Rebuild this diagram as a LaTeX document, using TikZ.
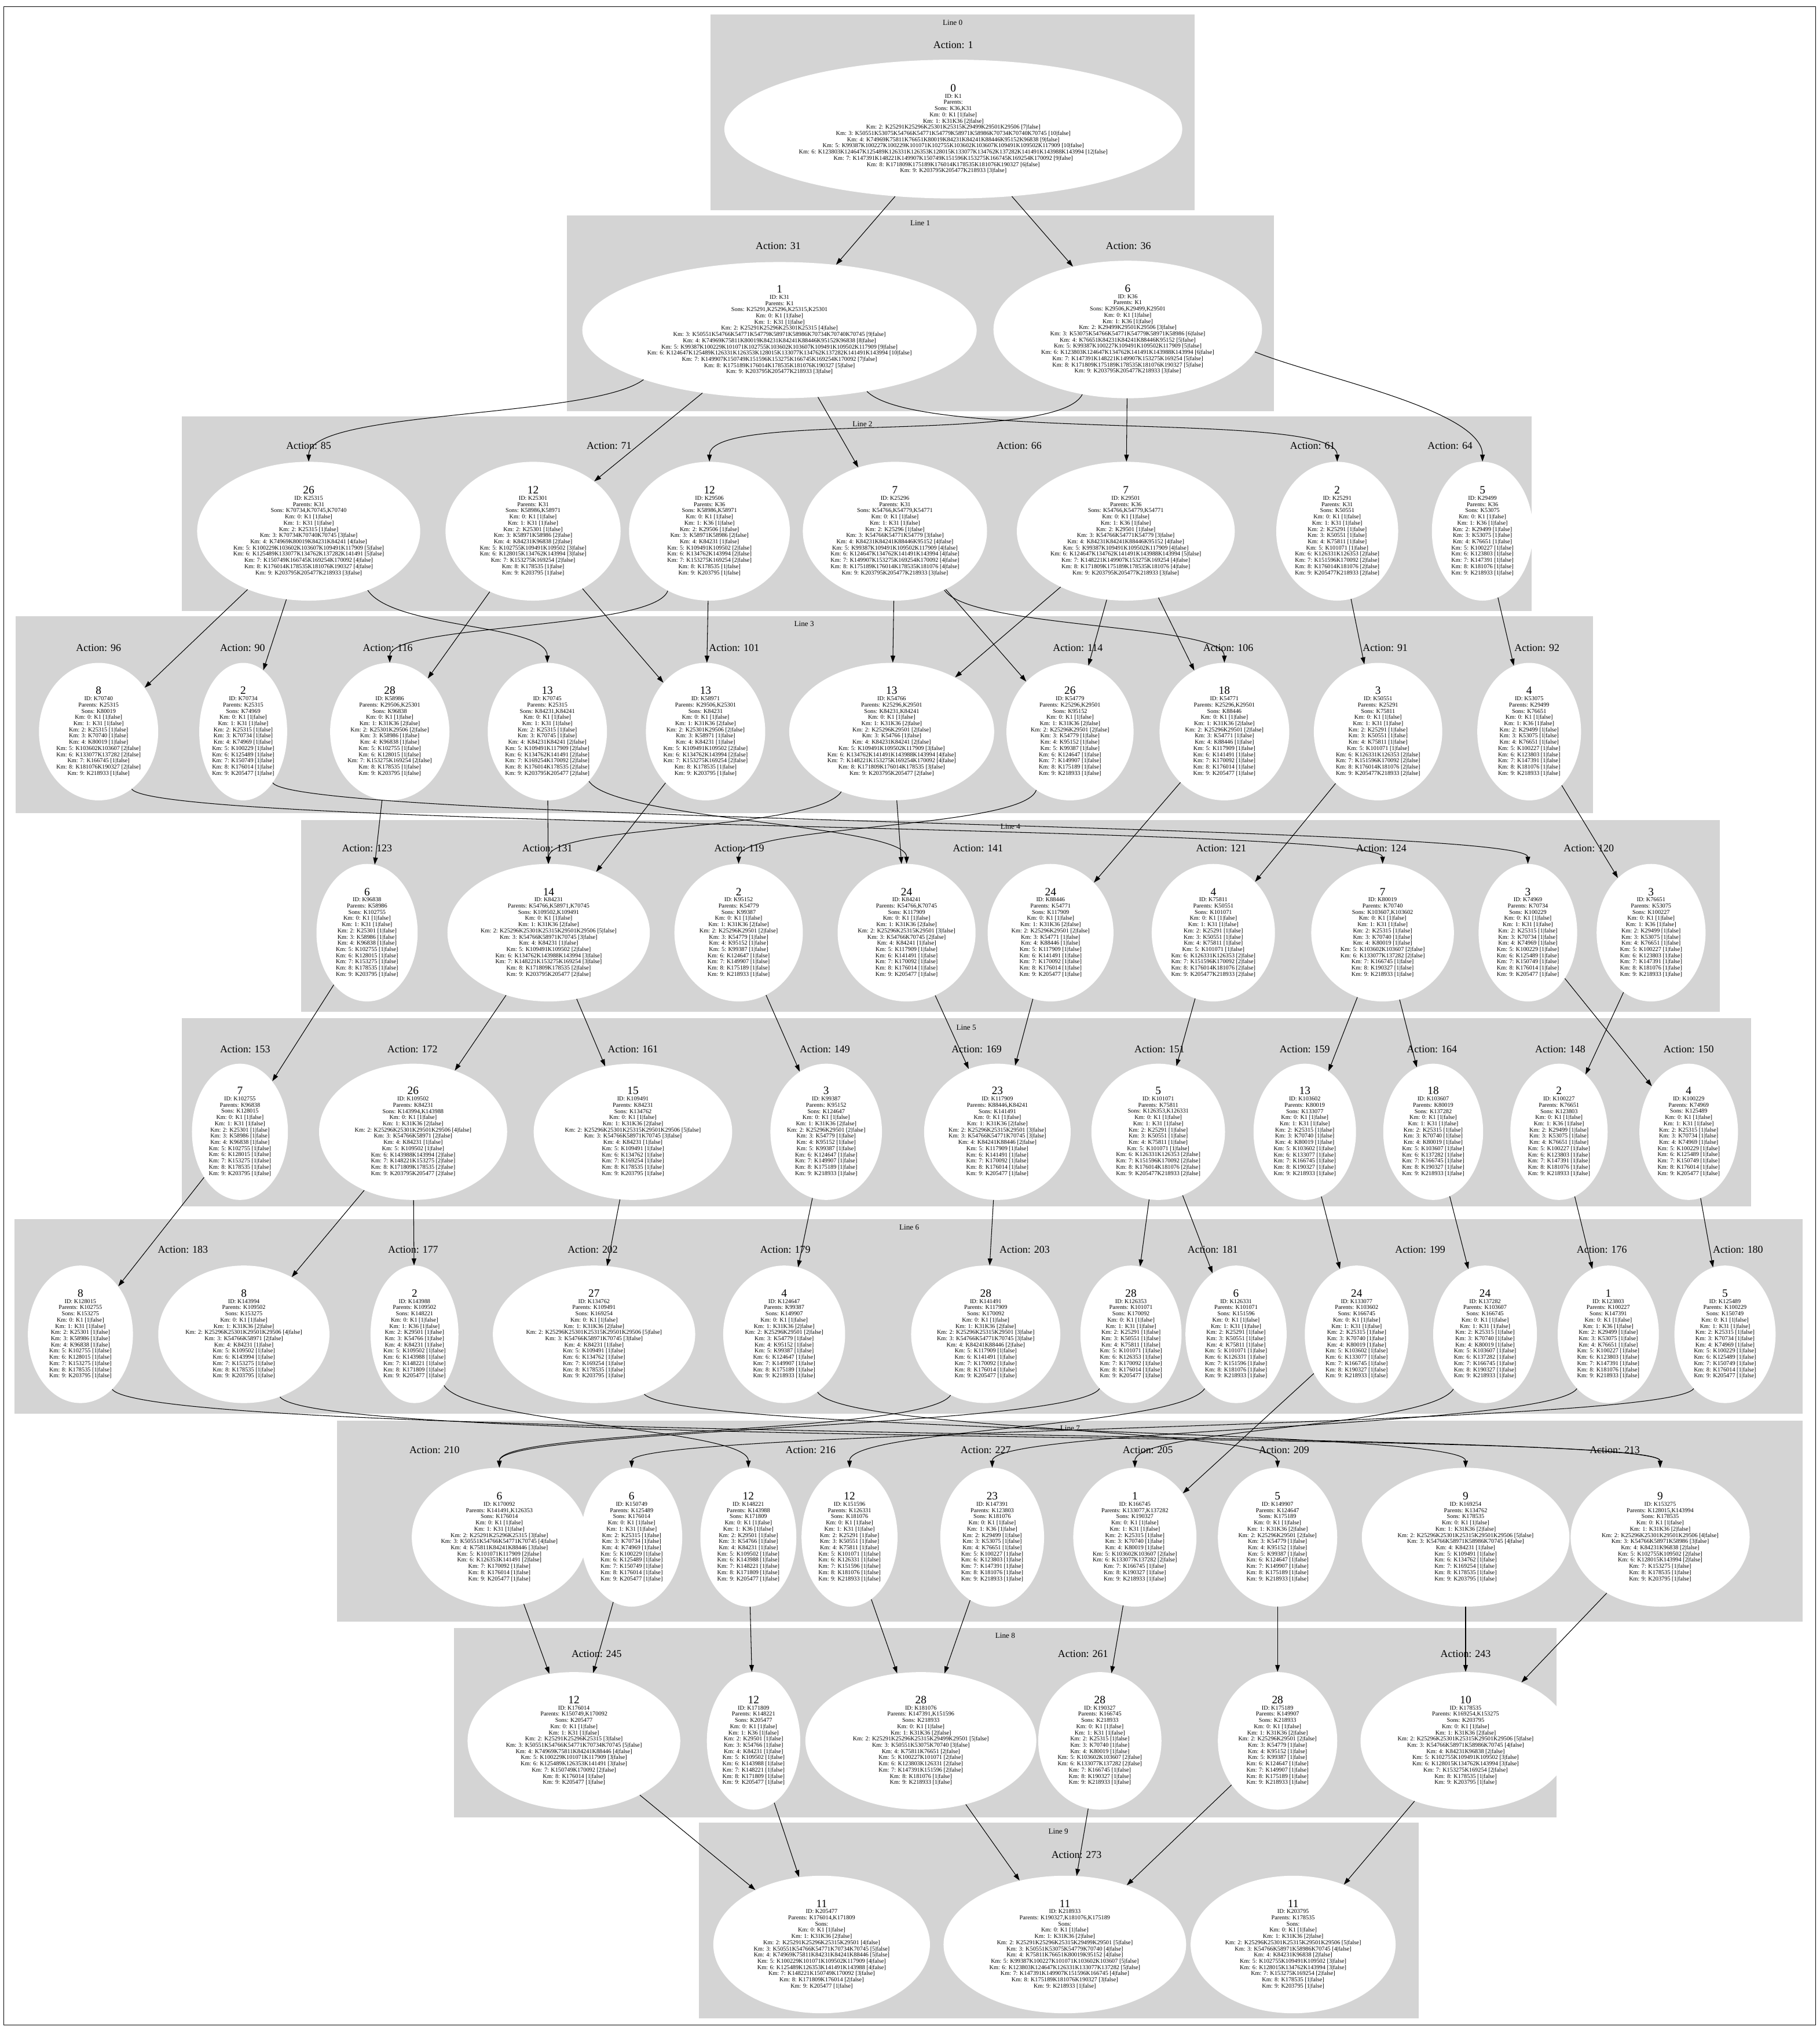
\documentclass[tikz,border=0pt]{standalone}
\usepackage{fontspec}
\setmainfont{Liberation Serif}
\usetikzlibrary{shapes.geometric,arrows.meta}
\tikzset{
  kGroup/.style={fill=black!17,draw=none},
  kLine/.style={font=\fontsize{7.5}{9}\selectfont,inner sep=0pt},
  kAct/.style={font=\fontsize{10.2}{12}\selectfont,inner sep=0pt},
  kState/.style={ellipse,fill=white,draw=none,inner sep=0pt,align=center,
        font=\fontsize{5.85}{6.1}\selectfont},
  kSize/.style 2 args={minimum width=#1*0.4482mm,minimum height=#2*0.4482mm},
  kEdge/.style={line width=.6pt,-{Triangle[length=2.4mm,width=1.6mm]}},
}
\newcommand{\knum}[1]{{\fontsize{11}{12}\selectfont #1}\\}
\newcommand{\kmline}[3]{Km: #1: #2 [#3|false]}

\begin{document}
\begin{tikzpicture}[x=0.4482mm,y=-0.4482mm]
\useasboundingbox (0,0) rectangle (1403,1568);
\draw[line width=.6pt] (3,5) rectangle (1400,1561);
% clusters, one per line
\fill[kGroup] (548,11) rectangle (921,162);
\fill[kGroup] (437,166) rectangle (982,317);
\fill[kGroup] (140,321) rectangle (1181,471);
\fill[kGroup] (12,475) rectangle (1228,627);
\fill[kGroup] (232,632) rectangle (1326,780);
\fill[kGroup] (140,785) rectangle (1350,930);
\fill[kGroup] (11,940) rectangle (1390,1090);
\fill[kGroup] (260,1095) rectangle (1390,1250);
\fill[kGroup] (350,1255) rectangle (1200,1401);
\fill[kGroup] (539,1405) rectangle (1094,1556);
\node[kLine] (line0) at (734.5,17.5) {Line 0};
\node[kLine] (line1) at (709.5,172) {Line 1};
\node[kLine] (line2) at (665,327) {Line 2};
\node[kLine] (line3) at (620,481) {Line 3};
\node[kLine] (line4) at (779,637) {Line 4};
\node[kLine] (line5) at (745,792) {Line 5};
\node[kLine] (line6) at (701,946) {Line 6};
\node[kLine] (line7) at (825,1101) {Line 7};
\node[kLine] (line8) at (775,1261) {Line 8};
\node[kLine] (line9) at (816,1412) {Line 9};

% line 0
\node[kAct] (a1) at (735,34.5) {Action: 1};
\node[kState,kSize={353}{107}] (k1) at (735,99.5) {\knum{0}ID: K1\\Parents:\\Sons: K36,K31\\\kmline0{K1}1\\\kmline1{K31K36}2\\\kmline2{K25291K25296K25301K25315K29499K29501K29506}7\\\kmline3{K50551K53075K54766K54771K54779K58971K58986K70734K70740K70745}{10}\\\kmline4{K74969K75811K76651K80019K84231K84241K88446K95152K96838}9\\\kmline5{K99387K100227K100229K101071K102755K103602K103607K109491K109502K117909}{10}\\\kmline6{K123803K124647K125489K126331K126353K128015K133077K134762K137282K141491K143988K143994}{12}\\\kmline7{K147391K148221K149907K150749K151596K153275K166745K169254K170092}9\\\kmline8{K171809K175189K176014K178535K181076K190327}6\\\kmline9{K203795K205477K218933}3};

% line 1
\node[kAct] (a31) at (600,189.7) {Action: 31};
\node[kAct] (a36) at (870,189.7) {Action: 36};
\node[kState,kSize={304}{105}] (k31) at (601,254.5) {\knum{1}ID: K31\\Parents: K1\\Sons: K25291,K25296,K25315,K25301\\\kmline0{K1}1\\\kmline1{K31}1\\\kmline2{K25291K25296K25301K25315}4\\\kmline3{K50551K54766K54771K54779K58971K58986K70734K70740K70745}9\\\kmline4{K74969K75811K80019K84231K84241K88446K95152K96838}8\\\kmline5{K99387K100229K101071K102755K103602K103607K109491K109502K117909}9\\\kmline6{K124647K125489K126331K126353K128015K133077K134762K137282K141491K143994}{10}\\\kmline7{K149907K150749K151596K153275K166745K169254K170092}7\\\kmline8{K175189K176014K178535K181076K190327}5\\\kmline9{K203795K205477K218933}3};
\node[kState,kSize={207}{106}] (k36) at (869.5,254) {\knum{6}ID: K36\\Parents: K1\\Sons: K29506,K29499,K29501\\\kmline0{K1}1\\\kmline1{K36}1\\\kmline2{K29499K29501K29506}3\\\kmline3{K53075K54766K54771K54779K58971K58986}6\\\kmline4{K76651K84231K84241K88446K95152}5\\\kmline5{K99387K100227K109491K109502K117909}5\\\kmline6{K123803K124647K134762K141491K143988K143994}6\\\kmline7{K147391K148221K149907K153275K169254}5\\\kmline8{K171809K175189K178535K181076K190327}5\\\kmline9{K203795K205477K218933}3};

% line 2
\node[kAct] (a85) at (238,343.7) {Action: 85};
\node[kAct] (a71) at (469.6,343.7) {Action: 71};
\node[kAct] (a66) at (785.8,343.7) {Action: 66};
\node[kAct] (a61) at (1012,343.7) {Action: 61};
\node[kAct] (a64) at (1118,343.7) {Action: 64};
\node[kState,kSize={172}{107}] (k25315) at (238,409.5) {\knum{26}ID: K25315\\Parents: K31\\Sons: K70734,K70745,K70740\\\kmline0{K1}1\\\kmline1{K31}1\\\kmline2{K25315}1\\\kmline3{K70734K70740K70745}3\\\kmline4{K74969K80019K84231K84241}4\\\kmline5{K100229K103602K103607K109491K117909}5\\\kmline6{K125489K133077K134762K137282K141491}5\\\kmline7{K150749K166745K169254K170092}4\\\kmline8{K176014K178535K181076K190327}4\\\kmline9{K203795K205477K218933}3};
\node[kState,kSize={135}{107}] (k25301) at (411,409.5) {\knum{12}ID: K25301\\Parents: K31\\Sons: K58986,K58971\\\kmline0{K1}1\\\kmline1{K31}1\\\kmline2{K25301}1\\\kmline3{K58971K58986}2\\\kmline4{K84231K96838}2\\\kmline5{K102755K109491K109502}3\\\kmline6{K128015K134762K143994}3\\\kmline7{K153275K169254}2\\\kmline8{K178535}1\\\kmline9{K203795}1};
\node[kState,kSize={124}{107}] (k29506) at (547,409.5) {\knum{12}ID: K29506\\Parents: K36\\Sons: K58986,K58971\\\kmline0{K1}1\\\kmline1{K36}1\\\kmline2{K29506}1\\\kmline3{K58971K58986}2\\\kmline4{K84231}1\\\kmline5{K109491K109502}2\\\kmline6{K134762K143994}2\\\kmline7{K153275K169254}2\\\kmline8{K178535}1\\\kmline9{K203795}1};
\node[kState,kSize={142}{107}] (k25296) at (690,409.5) {\knum{7}ID: K25296\\Parents: K31\\Sons: K54766,K54779,K54771\\\kmline0{K1}1\\\kmline1{K31}1\\\kmline2{K25296}1\\\kmline3{K54766K54771K54779}3\\\kmline4{K84231K84241K88446K95152}4\\\kmline5{K99387K109491K109502K117909}4\\\kmline6{K124647K134762K141491K143994}4\\\kmline7{K149907K153275K169254K170092}4\\\kmline8{K175189K176014K178535K181076}4\\\kmline9{K203795K205477K218933}3};
\node[kState,kSize={168}{107}] (k29501) at (868,409.5) {\knum{7}ID: K29501\\Parents: K36\\Sons: K54766,K54779,K54771\\\kmline0{K1}1\\\kmline1{K36}1\\\kmline2{K29501}1\\\kmline3{K54766K54771K54779}3\\\kmline4{K84231K84241K88446K95152}4\\\kmline5{K99387K109491K109502K117909}4\\\kmline6{K124647K134762K141491K143988K143994}5\\\kmline7{K148221K149907K153275K169254}4\\\kmline8{K171809K175189K178535K181076}4\\\kmline9{K203795K205477K218933}3};
\node[kState,kSize={94}{107}] (k25291) at (1031,409.5) {\knum{2}ID: K25291\\Parents: K31\\Sons: K50551\\\kmline0{K1}1\\\kmline1{K31}1\\\kmline2{K25291}1\\\kmline3{K50551}1\\\kmline4{K75811}1\\\kmline5{K101071}1\\\kmline6{K126331K126353}2\\\kmline7{K151596K170092}2\\\kmline8{K176014K181076}2\\\kmline9{K205477K218933}2};
\node[kState,kSize={78}{107}] (k29499) at (1143,409.5) {\knum{5}ID: K29499\\Parents: K36\\Sons: K53075\\\kmline0{K1}1\\\kmline1{K36}1\\\kmline2{K29499}1\\\kmline3{K53075}1\\\kmline4{K76651}1\\\kmline5{K100227}1\\\kmline6{K123803}1\\\kmline7{K147391}1\\\kmline8{K181076}1\\\kmline9{K218933}1};

% line 3
\node[kAct] (a96) at (76,499.5) {Action: 96};
\node[kAct] (a90) at (187,499.5) {Action: 90};
\node[kAct] (a116) at (299,499.5) {Action: 116};
\node[kAct] (a101) at (566,499.5) {Action: 101};
\node[kAct] (a114) at (831,499.5) {Action: 114};
\node[kAct] (a106) at (947,499.5) {Action: 106};
\node[kAct] (a91) at (1068,499.5) {Action: 91};
\node[kAct] (a92) at (1185,499.5) {Action: 92};
\node[kState,kSize={88}{106}] (k70740) at (76,564) {\knum{8}ID: K70740\\Parents: K25315\\Sons: K80019\\\kmline0{K1}1\\\kmline1{K31}1\\\kmline2{K25315}1\\\kmline3{K70740}1\\\kmline4{K80019}1\\\kmline5{K103602K103607}2\\\kmline6{K133077K137282}2\\\kmline7{K166745}1\\\kmline8{K181076K190327}2\\\kmline9{K218933}1};
\node[kState,kSize={66}{106}] (k70734) at (187.5,564) {\knum{2}ID: K70734\\Parents: K25315\\Sons: K74969\\\kmline0{K1}1\\\kmline1{K31}1\\\kmline2{K25315}1\\\kmline3{K70734}1\\\kmline4{K74969}1\\\kmline5{K100229}1\\\kmline6{K125489}1\\\kmline7{K150749}1\\\kmline8{K176014}1\\\kmline9{K205477}1};
\node[kState,kSize={89}{106}] (k58986) at (300.5,564) {\knum{28}ID: K58986\\Parents: K29506,K25301\\Sons: K96838\\\kmline0{K1}1\\\kmline1{K31K36}2\\\kmline2{K25301K29506}2\\\kmline3{K58986}1\\\kmline4{K96838}1\\\kmline5{K102755}1\\\kmline6{K128015}1\\\kmline7{K153275K169254}2\\\kmline8{K178535}1\\\kmline9{K203795}1};
\node[kState,kSize={90}{106}] (k70745) at (422,564) {\knum{13}ID: K70745\\Parents: K25315\\Sons: K84231,K84241\\\kmline0{K1}1\\\kmline1{K31}1\\\kmline2{K25315}1\\\kmline3{K70745}1\\\kmline4{K84231K84241}2\\\kmline5{K109491K117909}2\\\kmline6{K134762K141491}2\\\kmline7{K169254K170092}2\\\kmline8{K176014K178535}2\\\kmline9{K203795K205477}2};
\node[kState,kSize={92}{106}] (k58971) at (544,564) {\knum{13}ID: K58971\\Parents: K29506,K25301\\Sons: K84231\\\kmline0{K1}1\\\kmline1{K31K36}2\\\kmline2{K25301K29506}2\\\kmline3{K58971}1\\\kmline4{K84231}1\\\kmline5{K109491K109502}2\\\kmline6{K134762K143994}2\\\kmline7{K153275K169254}2\\\kmline8{K178535}1\\\kmline9{K203795}1};
\node[kState,kSize={158}{106}] (k54766) at (687.5,564) {\knum{13}ID: K54766\\Parents: K25296,K29501\\Sons: K84231,K84241\\\kmline0{K1}1\\\kmline1{K31K36}2\\\kmline2{K25296K29501}2\\\kmline3{K54766}1\\\kmline4{K84231K84241}2\\\kmline5{K109491K109502K117909}3\\\kmline6{K134762K141491K143988K143994}4\\\kmline7{K148221K153275K169254K170092}4\\\kmline8{K171809K176014K178535}3\\\kmline9{K203795K205477}2};
\node[kState,kSize={98}{106}] (k54779) at (825,564) {\knum{26}ID: K54779\\Parents: K25296,K29501\\Sons: K95152\\\kmline0{K1}1\\\kmline1{K31K36}2\\\kmline2{K25296K29501}2\\\kmline3{K54779}1\\\kmline4{K95152}1\\\kmline5{K99387}1\\\kmline6{K124647}1\\\kmline7{K149907}1\\\kmline8{K175189}1\\\kmline9{K218933}1};
\node[kState,kSize={100}{106}] (k54771) at (944,564) {\knum{18}ID: K54771\\Parents: K25296,K29501\\Sons: K88446\\\kmline0{K1}1\\\kmline1{K31K36}2\\\kmline2{K25296K29501}2\\\kmline3{K54771}1\\\kmline4{K88446}1\\\kmline5{K117909}1\\\kmline6{K141491}1\\\kmline7{K170092}1\\\kmline8{K176014}1\\\kmline9{K205477}1};
\node[kState,kSize={99}{106}] (k50551) at (1062.5,564) {\knum{3}ID: K50551\\Parents: K25291\\Sons: K75811\\\kmline0{K1}1\\\kmline1{K31}1\\\kmline2{K25291}1\\\kmline3{K50551}1\\\kmline4{K75811}1\\\kmline5{K101071}1\\\kmline6{K126331K126353}2\\\kmline7{K151596K170092}2\\\kmline8{K176014K181076}2\\\kmline9{K205477K218933}2};
\node[kState,kSize={80}{106}] (k53075) at (1179,564) {\knum{4}ID: K53075\\Parents: K29499\\Sons: K76651\\\kmline0{K1}1\\\kmline1{K36}1\\\kmline2{K29499}1\\\kmline3{K53075}1\\\kmline4{K76651}1\\\kmline5{K100227}1\\\kmline6{K123803}1\\\kmline7{K147391}1\\\kmline8{K181076}1\\\kmline9{K218933}1};

% line 4
\node[kAct] (a123) at (283,654) {Action: 123};
\node[kAct] (a131) at (422,654) {Action: 131};
\node[kAct] (a119) at (570,654) {Action: 119};
\node[kAct] (a141) at (754,654) {Action: 141};
\node[kAct] (a121) at (941.5,654) {Action: 121};
\node[kAct] (a124) at (1065,654) {Action: 124};
\node[kAct] (a120) at (1225,654) {Action: 120};
\node[kState,kSize={78}{106}] (k96838) at (283,719) {\knum{6}ID: K96838\\Parents: K58986\\Sons: K102755\\\kmline0{K1}1\\\kmline1{K31}1\\\kmline2{K25301}1\\\kmline3{K58986}1\\\kmline4{K96838}1\\\kmline5{K102755}1\\\kmline6{K128015}1\\\kmline7{K153275}1\\\kmline8{K178535}1\\\kmline9{K203795}1};
\node[kState,kSize={156}{106}] (k84231) at (423,719) {\knum{14}ID: K84231\\Parents: K54766,K58971,K70745\\Sons: K109502,K109491\\\kmline0{K1}1\\\kmline1{K31K36}2\\\kmline2{K25296K25301K25315K29501K29506}5\\\kmline3{K54766K58971K70745}3\\\kmline4{K84231}1\\\kmline5{K109491K109502}2\\\kmline6{K134762K143988K143994}3\\\kmline7{K148221K153275K169254}3\\\kmline8{K171809K178535}2\\\kmline9{K203795K205477}2};
\node[kState,kSize={99}{106}] (k95152) at (569.5,719) {\knum{2}ID: K95152\\Parents: K54779\\Sons: K99387\\\kmline0{K1}1\\\kmline1{K31K36}2\\\kmline2{K25296K29501}2\\\kmline3{K54779}1\\\kmline4{K95152}1\\\kmline5{K99387}1\\\kmline6{K124647}1\\\kmline7{K149907}1\\\kmline8{K175189}1\\\kmline9{K218933}1};
\node[kState,kSize={97}{106}] (k84241) at (699,719) {\knum{24}ID: K84241\\Parents: K54766,K70745\\Sons: K117909\\\kmline0{K1}1\\\kmline1{K31K36}2\\\kmline2{K25296K25315K29501}3\\\kmline3{K54766K70745}2\\\kmline4{K84241}1\\\kmline5{K117909}1\\\kmline6{K141491}1\\\kmline7{K170092}1\\\kmline8{K176014}1\\\kmline9{K205477}1};
\node[kState,kSize={97}{106}] (k88446) at (810,719) {\knum{24}ID: K88446\\Parents: K54771\\Sons: K117909\\\kmline0{K1}1\\\kmline1{K31K36}2\\\kmline2{K25296K29501}2\\\kmline3{K54771}1\\\kmline4{K88446}1\\\kmline5{K117909}1\\\kmline6{K141491}1\\\kmline7{K170092}1\\\kmline8{K176014}1\\\kmline9{K205477}1};
\node[kState,kSize={95}{106}] (k75811) at (935.5,719) {\knum{4}ID: K75811\\Parents: K50551\\Sons: K101071\\\kmline0{K1}1\\\kmline1{K31}1\\\kmline2{K25291}1\\\kmline3{K50551}1\\\kmline4{K75811}1\\\kmline5{K101071}1\\\kmline6{K126331K126353}2\\\kmline7{K151596K170092}2\\\kmline8{K176014K181076}2\\\kmline9{K205477K218933}2};
\node[kState,kSize={110}{106}] (k80019) at (1066,719) {\knum{7}ID: K80019\\Parents: K70740\\Sons: K103607,K103602\\\kmline0{K1}1\\\kmline1{K31}1\\\kmline2{K25315}1\\\kmline3{K70740}1\\\kmline4{K80019}1\\\kmline5{K103602K103607}2\\\kmline6{K133077K137282}2\\\kmline7{K166745}1\\\kmline8{K190327}1\\\kmline9{K218933}1};
\node[kState,kSize={76}{106}] (k74969) at (1178,719) {\knum{3}ID: K74969\\Parents: K70734\\Sons: K100229\\\kmline0{K1}1\\\kmline1{K31}1\\\kmline2{K25315}1\\\kmline3{K70734}1\\\kmline4{K74969}1\\\kmline5{K100229}1\\\kmline6{K125489}1\\\kmline7{K150749}1\\\kmline8{K176014}1\\\kmline9{K205477}1};
\node[kState,kSize={84}{106}] (k76651) at (1273,719) {\knum{3}ID: K76651\\Parents: K53075\\Sons: K100227\\\kmline0{K1}1\\\kmline1{K36}1\\\kmline2{K29499}1\\\kmline3{K53075}1\\\kmline4{K76651}1\\\kmline5{K100227}1\\\kmline6{K123803}1\\\kmline7{K147391}1\\\kmline8{K181076}1\\\kmline9{K218933}1};

% line 5
\node[kAct] (a153) at (189,808.7) {Action: 153};
\node[kAct] (a172) at (318,808.7) {Action: 172};
\node[kAct] (a161) at (488,808.7) {Action: 161};
\node[kAct] (a149) at (636,808.7) {Action: 149};
\node[kAct] (a169) at (753,808.7) {Action: 169};
\node[kAct] (a151) at (894,808.7) {Action: 151};
\node[kAct] (a159) at (1006,808.7) {Action: 159};
\node[kAct] (a164) at (1104,808.7) {Action: 164};
\node[kAct] (a148) at (1203,808.7) {Action: 148};
\node[kAct] (a150) at (1302,808.7) {Action: 150};
\node[kState,kSize={74}{105}] (k102755) at (185,872.5) {\knum{7}ID: K102755\\Parents: K96838\\Sons: K128015\\\kmline0{K1}1\\\kmline1{K31}1\\\kmline2{K25301}1\\\kmline3{K58986}1\\\kmline4{K96838}1\\\kmline5{K102755}1\\\kmline6{K128015}1\\\kmline7{K153275}1\\\kmline8{K178535}1\\\kmline9{K203795}1};
\node[kState,kSize={145}{105}] (k109502) at (318.5,872.5) {\knum{26}ID: K109502\\Parents: K84231\\Sons: K143994,K143988\\\kmline0{K1}1\\\kmline1{K31K36}2\\\kmline2{K25296K25301K29501K29506}4\\\kmline3{K54766K58971}2\\\kmline4{K84231}1\\\kmline5{K109502}1\\\kmline6{K143988K143994}2\\\kmline7{K148221K153275}2\\\kmline8{K171809K178535}2\\\kmline9{K203795K205477}2};
\node[kState,kSize={153}{105}] (k109491) at (488,872.5) {\knum{15}ID: K109491\\Parents: K84231\\Sons: K134762\\\kmline0{K1}1\\\kmline1{K31K36}2\\\kmline2{K25296K25301K25315K29501K29506}5\\\kmline3{K54766K58971K70745}3\\\kmline4{K84231}1\\\kmline5{K109491}1\\\kmline6{K134762}1\\\kmline7{K169254}1\\\kmline8{K178535}1\\\kmline9{K203795}1};
\node[kState,kSize={86}{105}] (k99387) at (637,872.5) {\knum{3}ID: K99387\\Parents: K95152\\Sons: K124647\\\kmline0{K1}1\\\kmline1{K31K36}2\\\kmline2{K25296K29501}2\\\kmline3{K54779}1\\\kmline4{K95152}1\\\kmline5{K99387}1\\\kmline6{K124647}1\\\kmline7{K149907}1\\\kmline8{K175189}1\\\kmline9{K218933}1};
\node[kState,kSize={113}{105}] (k117909) at (769,872.5) {\knum{23}ID: K117909\\Parents: K88446,K84241\\Sons: K141491\\\kmline0{K1}1\\\kmline1{K31K36}2\\\kmline2{K25296K25315K29501}3\\\kmline3{K54766K54771K70745}3\\\kmline4{K84241K88446}2\\\kmline5{K117909}1\\\kmline6{K141491}1\\\kmline7{K170092}1\\\kmline8{K176014}1\\\kmline9{K205477}1};
\node[kState,kSize={103}{105}] (k101071) at (893,872.5) {\knum{5}ID: K101071\\Parents: K75811\\Sons: K126353,K126331\\\kmline0{K1}1\\\kmline1{K31}1\\\kmline2{K25291}1\\\kmline3{K50551}1\\\kmline4{K75811}1\\\kmline5{K101071}1\\\kmline6{K126331K126353}2\\\kmline7{K151596K170092}2\\\kmline8{K176014K181076}2\\\kmline9{K205477K218933}2};
\node[kState,kSize={79}{105}] (k103602) at (1006,872.5) {\knum{13}ID: K103602\\Parents: K80019\\Sons: K133077\\\kmline0{K1}1\\\kmline1{K31}1\\\kmline2{K25315}1\\\kmline3{K70740}1\\\kmline4{K80019}1\\\kmline5{K103602}1\\\kmline6{K133077}1\\\kmline7{K166745}1\\\kmline8{K190327}1\\\kmline9{K218933}1};
\node[kState,kSize={77}{105}] (k103607) at (1105,872.5) {\knum{18}ID: K103607\\Parents: K80019\\Sons: K137282\\\kmline0{K1}1\\\kmline1{K31}1\\\kmline2{K25315}1\\\kmline3{K70740}1\\\kmline4{K80019}1\\\kmline5{K103607}1\\\kmline6{K137282}1\\\kmline7{K166745}1\\\kmline8{K190327}1\\\kmline9{K218933}1};
\node[kState,kSize={75}{105}] (k100227) at (1202,872.5) {\knum{2}ID: K100227\\Parents: K76651\\Sons: K123803\\\kmline0{K1}1\\\kmline1{K36}1\\\kmline2{K29499}1\\\kmline3{K53075}1\\\kmline4{K76651}1\\\kmline5{K100227}1\\\kmline6{K123803}1\\\kmline7{K147391}1\\\kmline8{K181076}1\\\kmline9{K218933}1};
\node[kState,kSize={76}{105}] (k100229) at (1302,872.5) {\knum{4}ID: K100229\\Parents: K74969\\Sons: K125489\\\kmline0{K1}1\\\kmline1{K31}1\\\kmline2{K25315}1\\\kmline3{K70734}1\\\kmline4{K74969}1\\\kmline5{K100229}1\\\kmline6{K125489}1\\\kmline7{K150749}1\\\kmline8{K176014}1\\\kmline9{K205477}1};

% line 6
\node[kAct] (a183) at (141,963.5) {Action: 183};
\node[kAct] (a177) at (318.5,963.5) {Action: 177};
\node[kAct] (a202) at (457,963.5) {Action: 202};
\node[kAct] (a179) at (605.5,963.5) {Action: 179};
\node[kAct] (a203) at (790,963.5) {Action: 203};
\node[kAct] (a181) at (935,963.5) {Action: 181};
\node[kAct] (a199) at (1095,963.5) {Action: 199};
\node[kAct] (a176) at (1235,963.5) {Action: 176};
\node[kAct] (a180) at (1340,963.5) {Action: 180};
\node[kState,kSize={81}{106}] (k128015) at (62,1028.6) {\knum{8}ID: K128015\\Parents: K102755\\Sons: K153275\\\kmline0{K1}1\\\kmline1{K31}1\\\kmline2{K25301}1\\\kmline3{K58986}1\\\kmline4{K96838}1\\\kmline5{K102755}1\\\kmline6{K128015}1\\\kmline7{K153275}1\\\kmline8{K178535}1\\\kmline9{K203795}1};
\node[kState,kSize={132}{106}] (k143994) at (188,1028.6) {\knum{8}ID: K143994\\Parents: K109502\\Sons: K153275\\\kmline0{K1}1\\\kmline1{K31K36}2\\\kmline2{K25296K25301K29501K29506}4\\\kmline3{K54766K58971}2\\\kmline4{K84231}1\\\kmline5{K109502}1\\\kmline6{K143994}1\\\kmline7{K153275}1\\\kmline8{K178535}1\\\kmline9{K203795}1};
\node[kState,kSize={66}{106}] (k143988) at (319.6,1028.6) {\knum{2}ID: K143988\\Parents: K109502\\Sons: K148221\\\kmline0{K1}1\\\kmline1{K36}1\\\kmline2{K29501}1\\\kmline3{K54766}1\\\kmline4{K84231}1\\\kmline5{K109502}1\\\kmline6{K143988}1\\\kmline7{K148221}1\\\kmline8{K171809}1\\\kmline9{K205477}1};
\node[kState,kSize={156}{106}] (k134762) at (458,1028.6) {\knum{27}ID: K134762\\Parents: K109491\\Sons: K169254\\\kmline0{K1}1\\\kmline1{K31K36}2\\\kmline2{K25296K25301K25315K29501K29506}5\\\kmline3{K54766K58971K70745}3\\\kmline4{K84231}1\\\kmline5{K109491}1\\\kmline6{K134762}1\\\kmline7{K169254}1\\\kmline8{K178535}1\\\kmline9{K203795}1};
\node[kState,kSize={94}{106}] (k124647) at (604.6,1028.6) {\knum{4}ID: K124647\\Parents: K99387\\Sons: K149907\\\kmline0{K1}1\\\kmline1{K31K36}2\\\kmline2{K25296K29501}2\\\kmline3{K54779}1\\\kmline4{K95152}1\\\kmline5{K99387}1\\\kmline6{K124647}1\\\kmline7{K149907}1\\\kmline8{K175189}1\\\kmline9{K218933}1};
\node[kState,kSize={115}{106}] (k141491) at (760,1028.6) {\knum{28}ID: K141491\\Parents: K117909\\Sons: K170092\\\kmline0{K1}1\\\kmline1{K31K36}2\\\kmline2{K25296K25315K29501}3\\\kmline3{K54766K54771K70745}3\\\kmline4{K84241K88446}2\\\kmline5{K117909}1\\\kmline6{K141491}1\\\kmline7{K170092}1\\\kmline8{K176014}1\\\kmline9{K205477}1};
\node[kState,kSize={78}{106}] (k126353) at (872,1028.6) {\knum{28}ID: K126353\\Parents: K101071\\Sons: K170092\\\kmline0{K1}1\\\kmline1{K31}1\\\kmline2{K25291}1\\\kmline3{K50551}1\\\kmline4{K75811}1\\\kmline5{K101071}1\\\kmline6{K126353}1\\\kmline7{K170092}1\\\kmline8{K176014}1\\\kmline9{K205477}1};
\node[kState,kSize={78}{106}] (k126331) at (953,1028.6) {\knum{6}ID: K126331\\Parents: K101071\\Sons: K151596\\\kmline0{K1}1\\\kmline1{K31}1\\\kmline2{K25291}1\\\kmline3{K50551}1\\\kmline4{K75811}1\\\kmline5{K101071}1\\\kmline6{K126331}1\\\kmline7{K151596}1\\\kmline8{K181076}1\\\kmline9{K218933}1};
\node[kState,kSize={80}{106}] (k133077) at (1046,1028.6) {\knum{24}ID: K133077\\Parents: K103602\\Sons: K166745\\\kmline0{K1}1\\\kmline1{K31}1\\\kmline2{K25315}1\\\kmline3{K70740}1\\\kmline4{K80019}1\\\kmline5{K103602}1\\\kmline6{K133077}1\\\kmline7{K166745}1\\\kmline8{K190327}1\\\kmline9{K218933}1};
\node[kState,kSize={80}{106}] (k137282) at (1145,1028.6) {\knum{24}ID: K137282\\Parents: K103607\\Sons: K166745\\\kmline0{K1}1\\\kmline1{K31}1\\\kmline2{K25315}1\\\kmline3{K70740}1\\\kmline4{K80019}1\\\kmline5{K103607}1\\\kmline6{K137282}1\\\kmline7{K166745}1\\\kmline8{K190327}1\\\kmline9{K218933}1};
\node[kState,kSize={78}{106}] (k123803) at (1240,1028.6) {\knum{1}ID: K123803\\Parents: K100227\\Sons: K147391\\\kmline0{K1}1\\\kmline1{K36}1\\\kmline2{K29499}1\\\kmline3{K53075}1\\\kmline4{K76651}1\\\kmline5{K100227}1\\\kmline6{K123803}1\\\kmline7{K147391}1\\\kmline8{K181076}1\\\kmline9{K218933}1};
\node[kState,kSize={78}{106}] (k125489) at (1330,1028.6) {\knum{5}ID: K125489\\Parents: K100229\\Sons: K150749\\\kmline0{K1}1\\\kmline1{K31}1\\\kmline2{K25315}1\\\kmline3{K70734}1\\\kmline4{K74969}1\\\kmline5{K100229}1\\\kmline6{K125489}1\\\kmline7{K150749}1\\\kmline8{K176014}1\\\kmline9{K205477}1};

% line 7
\node[kAct] (a210) at (335,1118) {Action: 210};
\node[kAct] (a216) at (625,1118) {Action: 216};
\node[kAct] (a227) at (760,1118) {Action: 227};
\node[kAct] (a205) at (885,1118) {Action: 205};
\node[kAct] (a209) at (990,1118) {Action: 209};
\node[kAct] (a213) at (1245,1118) {Action: 213};
\node[kState,kSize={135}{107}] (k170092) at (385,1185) {\knum{6}ID: K170092\\Parents: K141491,K126353\\Sons: K176014\\\kmline0{K1}1\\\kmline1{K31}1\\\kmline2{K25291K25296K25315}3\\\kmline3{K50551K54766K54771K70745}4\\\kmline4{K75811K84241K88446}3\\\kmline5{K101071K117909}2\\\kmline6{K126353K141491}2\\\kmline7{K170092}1\\\kmline8{K176014}1\\\kmline9{K205477}1};
\node[kState,kSize={78}{107}] (k150749) at (487,1185) {\knum{6}ID: K150749\\Parents: K125489\\Sons: K176014\\\kmline0{K1}1\\\kmline1{K31}1\\\kmline2{K25315}1\\\kmline3{K70734}1\\\kmline4{K74969}1\\\kmline5{K100229}1\\\kmline6{K125489}1\\\kmline7{K150749}1\\\kmline8{K176014}1\\\kmline9{K205477}1};
\node[kState,kSize={74}{107}] (k148221) at (577,1185) {\knum{12}ID: K148221\\Parents: K143988\\Sons: K171809\\\kmline0{K1}1\\\kmline1{K36}1\\\kmline2{K29501}1\\\kmline3{K54766}1\\\kmline4{K84231}1\\\kmline5{K109502}1\\\kmline6{K143988}1\\\kmline7{K148221}1\\\kmline8{K171809}1\\\kmline9{K205477}1};
\node[kState,kSize={74}{107}] (k151596) at (655,1185) {\knum{12}ID: K151596\\Parents: K126331\\Sons: K181076\\\kmline0{K1}1\\\kmline1{K31}1\\\kmline2{K25291}1\\\kmline3{K50551}1\\\kmline4{K75811}1\\\kmline5{K101071}1\\\kmline6{K126331}1\\\kmline7{K151596}1\\\kmline8{K181076}1\\\kmline9{K218933}1};
\node[kState,kSize={80}{107}] (k147391) at (765,1185) {\knum{23}ID: K147391\\Parents: K123803\\Sons: K181076\\\kmline0{K1}1\\\kmline1{K36}1\\\kmline2{K29499}1\\\kmline3{K53075}1\\\kmline4{K76651}1\\\kmline5{K100227}1\\\kmline6{K123803}1\\\kmline7{K147391}1\\\kmline8{K181076}1\\\kmline9{K218933}1};
\node[kState,kSize={95}{107}] (k166745) at (875,1185) {\knum{1}ID: K166745\\Parents: K133077,K137282\\Sons: K190327\\\kmline0{K1}1\\\kmline1{K31}1\\\kmline2{K25315}1\\\kmline3{K70740}1\\\kmline4{K80019}1\\\kmline5{K103602K103607}2\\\kmline6{K133077K137282}2\\\kmline7{K166745}1\\\kmline8{K190327}1\\\kmline9{K218933}1};
\node[kState,kSize={92}{107}] (k149907) at (985,1185) {\knum{5}ID: K149907\\Parents: K124647\\Sons: K175189\\\kmline0{K1}1\\\kmline1{K31K36}2\\\kmline2{K25296K29501}2\\\kmline3{K54779}1\\\kmline4{K95152}1\\\kmline5{K99387}1\\\kmline6{K124647}1\\\kmline7{K149907}1\\\kmline8{K175189}1\\\kmline9{K218933}1};
\node[kState,kSize={160}{107}] (k169254) at (1130,1185) {\knum{9}ID: K169254\\Parents: K134762\\Sons: K178535\\\kmline0{K1}1\\\kmline1{K31K36}2\\\kmline2{K25296K25301K25315K29501K29506}5\\\kmline3{K54766K58971K58986K70745}4\\\kmline4{K84231}1\\\kmline5{K109491}1\\\kmline6{K134762}1\\\kmline7{K169254}1\\\kmline8{K178535}1\\\kmline9{K203795}1};
\node[kState,kSize={138}{107}] (k153275) at (1280,1185) {\knum{9}ID: K153275\\Parents: K128015,K143994\\Sons: K178535\\\kmline0{K1}1\\\kmline1{K31K36}2\\\kmline2{K25296K25301K29501K29506}4\\\kmline3{K54766K58971K58986}3\\\kmline4{K84231K96838}2\\\kmline5{K102755K109502}2\\\kmline6{K128015K143994}2\\\kmline7{K153275}1\\\kmline8{K178535}1\\\kmline9{K203795}1};

% line 8
\node[kAct] (a245) at (460,1275) {Action: 245};
\node[kAct] (a261) at (835,1275) {Action: 261};
\node[kAct] (a243) at (1130,1275) {Action: 243};
\node[kState,kSize={164}{106}] (k176014) at (442.5,1342) {\knum{12}ID: K176014\\Parents: K150749,K170092\\Sons: K205477\\\kmline0{K1}1\\\kmline1{K31}1\\\kmline2{K25291K25296K25315}3\\\kmline3{K50551K54766K54771K70734K70745}5\\\kmline4{K74969K75811K84241K88446}4\\\kmline5{K100229K101071K117909}3\\\kmline6{K125489K126353K141491}3\\\kmline7{K150749K170092}2\\\kmline8{K176014}1\\\kmline9{K205477}1};
\node[kState,kSize={72}{106}] (k171809) at (581,1342) {\knum{12}ID: K171809\\Parents: K148221\\Sons: K205477\\\kmline0{K1}1\\\kmline1{K36}1\\\kmline2{K29501}1\\\kmline3{K54766}1\\\kmline4{K84231}1\\\kmline5{K109502}1\\\kmline6{K143988}1\\\kmline7{K148221}1\\\kmline8{K171809}1\\\kmline9{K205477}1};
\node[kState,kSize={178}{106}] (k181076) at (710,1342) {\knum{28}ID: K181076\\Parents: K147391,K151596\\Sons: K218933\\\kmline0{K1}1\\\kmline1{K31K36}2\\\kmline2{K25291K25296K25315K29499K29501}5\\\kmline3{K50551K53075K70740}3\\\kmline4{K75811K76651}2\\\kmline5{K100227K101071}2\\\kmline6{K123803K126331}2\\\kmline7{K147391K151596}2\\\kmline8{K181076}1\\\kmline9{K218933}1};
\node[kState,kSize={95}{106}] (k190327) at (848,1342) {\knum{28}ID: K190327\\Parents: K166745\\Sons: K218933\\\kmline0{K1}1\\\kmline1{K31}1\\\kmline2{K25315}1\\\kmline3{K70740}1\\\kmline4{K80019}1\\\kmline5{K103602K103607}2\\\kmline6{K133077K137282}2\\\kmline7{K166745}1\\\kmline8{K190327}1\\\kmline9{K218933}1};
\node[kState,kSize={92}{106}] (k175189) at (985,1342) {\knum{28}ID: K175189\\Parents: K149907\\Sons: K218933\\\kmline0{K1}1\\\kmline1{K31K36}2\\\kmline2{K25296K29501}2\\\kmline3{K54779}1\\\kmline4{K95152}1\\\kmline5{K99387}1\\\kmline6{K124647}1\\\kmline7{K149907}1\\\kmline8{K175189}1\\\kmline9{K218933}1};
\node[kState,kSize={162}{106}] (k178535) at (1130,1342) {\knum{10}ID: K178535\\Parents: K169254,K153275\\Sons: K203795\\\kmline0{K1}1\\\kmline1{K31K36}2\\\kmline2{K25296K25301K25315K29501K29506}5\\\kmline3{K54766K58971K58986K70745}4\\\kmline4{K84231K96838}2\\\kmline5{K102755K109491K109502}3\\\kmline6{K128015K134762K143994}3\\\kmline7{K153275K169254}2\\\kmline8{K178535}1\\\kmline9{K203795}1};

% line 9
\node[kAct] (a273) at (830,1430) {Action: 273};
\node[kState,kSize={167}{106}] (k205477) at (633.5,1499) {\knum{11}ID: K205477\\Parents: K176014,K171809\\Sons:\\\kmline0{K1}1\\\kmline1{K31K36}2\\\kmline2{K25291K25296K25315K29501}4\\\kmline3{K50551K54766K54771K70734K70745}5\\\kmline4{K74969K75811K84231K84241K88446}5\\\kmline5{K100229K101071K109502K117909}4\\\kmline6{K125489K126353K141491K143988}4\\\kmline7{K148221K150749K170092}3\\\kmline8{K171809K176014}2\\\kmline9{K205477}1};
\node[kState,kSize={187}{106}] (k218933) at (821,1499) {\knum{11}ID: K218933\\Parents: K190327,K181076,K175189\\Sons:\\\kmline0{K1}1\\\kmline1{K31K36}2\\\kmline2{K25291K25296K25315K29499K29501}5\\\kmline3{K50551K53075K54779K70740}4\\\kmline4{K75811K76651K80019K95152}4\\\kmline5{K99387K100227K101071K103602K103607}5\\\kmline6{K123803K124647K126331K133077K137282}5\\\kmline7{K147391K149907K151596K166745}4\\\kmline8{K175189K181076K190327}3\\\kmline9{K218933}1};
\node[kState,kSize={158}{106}] (k203795) at (997,1499) {\knum{11}ID: K203795\\Parents: K178535\\Sons:\\\kmline0{K1}1\\\kmline1{K31K36}2\\\kmline2{K25296K25301K25315K29501K29506}5\\\kmline3{K54766K58971K58986K70745}4\\\kmline4{K84231K96838}2\\\kmline5{K102755K109491K109502}3\\\kmline6{K128015K134762K143994}3\\\kmline7{K153275K169254}2\\\kmline8{K178535}1\\\kmline9{K203795}1};

% edges
\draw[kEdge] (k1) -- (k31);
\draw[kEdge] (k1) -- (k36);
\draw[kEdge] (k31.-160) .. controls +(-40,30) and +(0,-40) .. (k25315.north);
\draw[kEdge] (k31) -- (k25301);
\draw[kEdge] (k31) -- (k25296);
\draw[kEdge] (k31.-35) .. controls +(40,40) and +(0,-40) .. (k25291.north);
\draw[kEdge] (k36.-125) .. controls +(-20,40) and +(0,-40) .. (k29506.north);
\draw[kEdge] (k36) -- (k29501);
\draw[kEdge] (k36.-10) .. controls +(50,20) and +(0,-40) .. (k29499.north);
\draw[kEdge] (k25315) -- (k70734);
\draw[kEdge] (k25315.-45) .. controls +(20,30) and +(0,-30) .. (k70745.north);
\draw[kEdge] (k25315) -- (k70740);
\draw[kEdge] (k25301) -- (k58986);
\draw[kEdge] (k25301) -- (k58971);
\draw[kEdge] (k29506.-125) .. controls +(-10,30) and +(0,-30) .. (k58986.north);
\draw[kEdge] (k29506) -- (k58971);
\draw[kEdge] (k25296) -- (k54766);
\draw[kEdge] (k25296) -- (k54779);
\draw[kEdge] (k25296.-50) .. controls +(20,30) and +(0,-30) .. (k54771.north);
\draw[kEdge] (k29501) -- (k54766);
\draw[kEdge] (k29501) -- (k54779);
\draw[kEdge] (k29501) -- (k54771);
\draw[kEdge] (k25291) -- (k50551);
\draw[kEdge] (k29499) -- (k53075);
\draw[kEdge] (k58986) -- (k96838);
\draw[kEdge] (k54766.-130) .. controls +(-20,30) and +(0,-30) .. (k84231.north);
\draw[kEdge] (k54766) -- (k84241);
\draw[kEdge] (k58971) -- (k84231);
\draw[kEdge] (k70745) -- (k84231);
\draw[kEdge] (k70745.-50) .. controls +(20,30) and +(0,-30) .. (k84241.north);
\draw[kEdge] (k54779.-120) .. controls +(-10,30) and +(0,-30) .. (k95152.north);
\draw[kEdge] (k54771) -- (k88446);
\draw[kEdge] (k50551) -- (k75811);
\draw[kEdge] (k70740.-60) .. controls +(20,30) and +(0,-30) .. (k80019.north);
\draw[kEdge] (k70734.-60) .. controls +(20,30) and +(0,-30) .. (k74969.north);
\draw[kEdge] (k53075) -- (k76651);
\draw[kEdge] (k96838) -- (k102755);
\draw[kEdge] (k84231) -- (k109502);
\draw[kEdge] (k84231) -- (k109491);
\draw[kEdge] (k95152) -- (k99387);
\draw[kEdge] (k88446) -- (k117909);
\draw[kEdge] (k84241) -- (k117909);
\draw[kEdge] (k75811) -- (k101071);
\draw[kEdge] (k80019) -- (k103602);
\draw[kEdge] (k80019) -- (k103607);
\draw[kEdge] (k76651) -- (k100227);
\draw[kEdge] (k74969) -- (k100229);
\draw[kEdge] (k102755) -- (k128015);
\draw[kEdge] (k109502) -- (k143994);
\draw[kEdge] (k109502) -- (k143988);
\draw[kEdge] (k109491) -- (k134762);
\draw[kEdge] (k99387) -- (k124647);
\draw[kEdge] (k117909) -- (k141491);
\draw[kEdge] (k101071) -- (k126353);
\draw[kEdge] (k101071) -- (k126331);
\draw[kEdge] (k103602) -- (k133077);
\draw[kEdge] (k103607) -- (k137282);
\draw[kEdge] (k100227) -- (k123803);
\draw[kEdge] (k100229) -- (k125489);
\draw[kEdge] (k128015.-60) .. controls +(30,40) and +(0,-30) .. (k153275.north);
\draw[kEdge] (k143994.-60) .. controls +(30,40) and +(0,-30) .. (k153275.north);
\draw[kEdge] (k143988.-60) .. controls +(20,30) and +(0,-30) .. (k148221.north);
\draw[kEdge] (k134762.-50) .. controls +(30,30) and +(0,-30) .. (k169254.north);
\draw[kEdge] (k124647.-60) .. controls +(20,30) and +(0,-30) .. (k149907.north);
\draw[kEdge] (k141491.-120) .. controls +(-20,30) and +(0,-30) .. (k170092.north);
\draw[kEdge] (k126353.-120) .. controls +(-20,30) and +(0,-30) .. (k170092.north);
\draw[kEdge] (k126331.-120) .. controls +(-20,30) and +(0,-30) .. (k151596.north);
\draw[kEdge] (k133077) -- (k166745);
\draw[kEdge] (k137282.-120) .. controls +(-20,30) and +(0,-30) .. (k166745.north);
\draw[kEdge] (k123803.-120) .. controls +(-20,30) and +(0,-30) .. (k147391.north);
\draw[kEdge] (k125489.-120) .. controls +(-20,30) and +(0,-30) .. (k150749.north);
\draw[kEdge] (k170092) -- (k176014);
\draw[kEdge] (k150749) -- (k176014);
\draw[kEdge] (k148221) -- (k171809);
\draw[kEdge] (k151596) -- (k181076);
\draw[kEdge] (k147391) -- (k181076);
\draw[kEdge] (k166745) -- (k190327);
\draw[kEdge] (k149907) -- (k175189);
\draw[kEdge] (k169254) -- (k178535);
\draw[kEdge] (k153275) -- (k178535);
\draw[kEdge] (k176014) -- (k205477);
\draw[kEdge] (k171809) -- (k205477);
\draw[kEdge] (k181076) -- (k218933);
\draw[kEdge] (k190327) -- (k218933);
\draw[kEdge] (k175189) -- (k218933);
\draw[kEdge] (k178535) -- (k203795);
\end{tikzpicture}
\end{document}
